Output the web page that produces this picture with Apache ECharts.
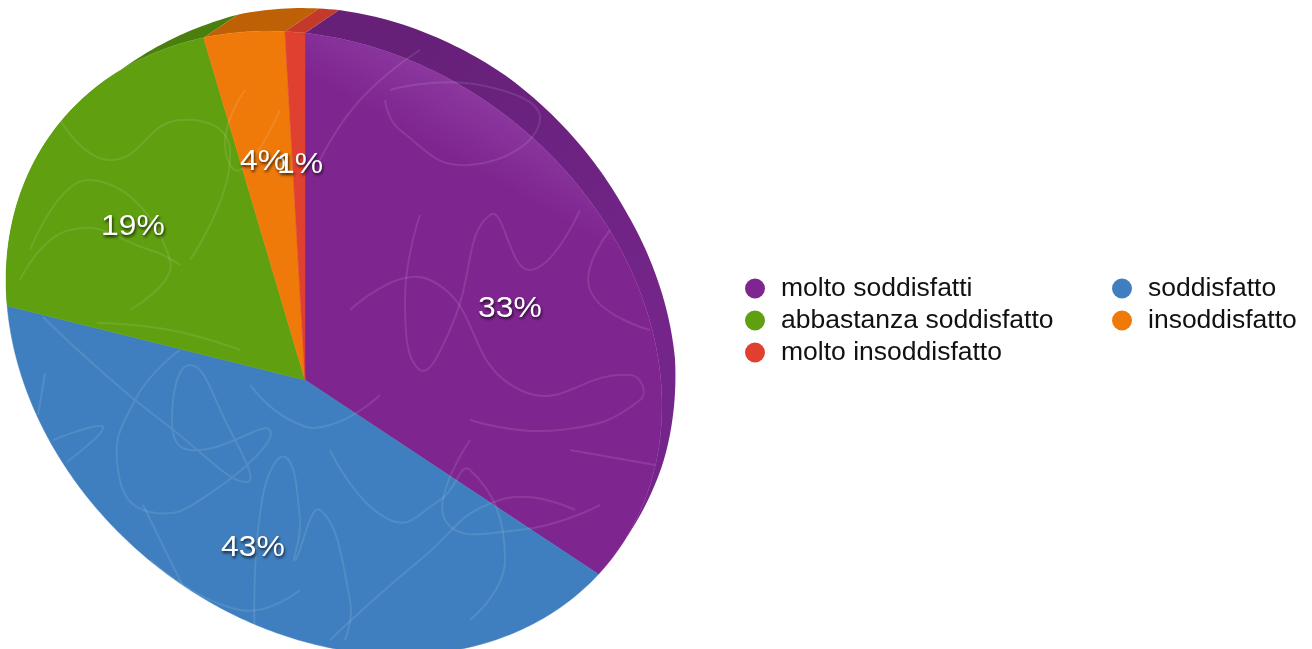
<!DOCTYPE html>
<html>
<head>
<meta charset="utf-8">
<style>html,body{margin:0;padding:0;background:#fff}#c{width:1312px;height:649px}</style>
<script src="https://cdn.jsdelivr.net/npm/echarts@6/dist/echarts.min.js"></script>
</head>
<body>
<div id="c"></div>
<script>
// ---- data ----
const categories = ['molto soddisfatti','soddisfatto','abbastanza soddisfatto','insoddisfatto','molto insoddisfatto'];
const values = [33,43,19,4,1];
const tickLabels = ['33%','43%','19%','4%','1%'];
const legendLeft = ['molto soddisfatti','abbastanza soddisfatto','molto insoddisfatto'];
const legendRight = ['soddisfatto','insoddisfatto'];

// ---- styles and tilted-disc projection ----
const topColors = ['#7f2590','#3f7fbf','#5f9f10','#ef7a0a','#e0402f'];
const sideColors = ['#6a2180','#2f6090','#4a7f0e','#bd6006','#c43a2a'];
const labelAnchors = [[510,309],[253,548],[133,227],[263,162],[300,165]];
const pivot = [305,380], centre = [334,343], semiA = 351.6, semiB = 285;
const tilt = 38*Math.PI/180, depth = [34,-23];
const warp = [[0,0],[118.8,123.5],[273.6,284],[342,343.5],[360,360]];
const taper = [[0,1],[30,0.85],[60,0.58],[85,0.45],[100,0.25],[112,0],[273.5,0],[315,0.45],[342,1],[360,1]];

function lerpTable(tab,t,fallback){
  for(let i=1;i<tab.length;i++){
    if(t<=tab[i][0]){
      const a=tab[i-1],b=tab[i];
      return a[1]+(b[1]-a[1])*(t-a[0])/(b[0]-a[0]);
    }
  }
  return fallback;
}
function rim(t){
  const p=lerpTable(warp,t,t)*Math.PI/180, dx=Math.sin(p), dy=-Math.cos(p);
  const c=Math.cos(tilt), s=Math.sin(tilt);
  const ox=pivot[0]-centre[0], oy=pivot[1]-centre[1];
  const ou=ox*c+oy*s, ov=-ox*s+oy*c, du=dx*c+dy*s, dv=-dx*s+dy*c;
  const A=du*du/(semiA*semiA)+dv*dv/(semiB*semiB);
  const B=2*(ou*du/(semiA*semiA)+ov*dv/(semiB*semiB));
  const C=ou*ou/(semiA*semiA)+ov*ov/(semiB*semiB)-1;
  const r=(-B+Math.sqrt(B*B-4*A*C))/(2*A);
  return [pivot[0]+r*dx,pivot[1]+r*dy];
}
const total = values.reduce((a,b)=>a+b,0);
function spans(){
  let acc=0; return values.map(v=>{const s=acc/total*360; acc+=v; return [s,acc/total*360];});
}
const sliceSpans = spans();
function angles(span){
  const out=[]; const n=Math.max(2,Math.ceil(span[1]-span[0]));
  for(let i=0;i<=n;i++) out.push(span[0]+(span[1]-span[0])*i/n);
  return out;
}

// faint scribble texture over the disc
const scribbles = [
 [[43,317],[100,370],[167,425],[247,482],[225,420],[190,365],[172,420],[190,450],[270,430],[215,490],[150,512],[118,470],[135,400],[180,350]],
 [[143,505],[170,560],[200,620]],
 [[255,640],[262,500],[285,457],[300,520],[295,560],[320,510],[350,600],[345,640]],
 [[45,373],[38,415]],[[53,440],[103,427],[67,462]],
 [[250,385],[290,420],[330,425],[380,395]],
 [[330,450],[390,520],[440,500],[470,470],[505,560],[470,620]],
 [[330,640],[420,560],[500,500],[575,510]],
 [[150,560],[240,610],[300,590]],
 [[30,250],[90,180],[170,260],[130,310]],
 [[97,323],[170,330],[240,350]],[[60,120],[110,160],[180,120],[230,150],[190,260]],
 [[20,280],[70,230],[150,250],[180,265]],
 [[390,90],[480,85],[540,120],[470,165],[400,130],[385,100]],
 [[420,215],[405,300],[420,370],[450,330],[490,215],[530,270],[580,210]],
 [[320,160],[360,100],[420,50]],
 [[350,310],[430,280],[520,390],[630,375],[640,400],[560,430],[470,420]],
 [[470,440],[445,520],[520,530],[600,505]],
 [[570,450],[655,465]],[[610,230],[590,290],[650,330]],
 [[245,90],[225,140],[240,170],[280,110]]
];

const sliceSeries = categories.map((name,i)=>({
  type:'custom', name, coordinateSystem:'none', z:2, silent:true,
  itemStyle:{color:topColors[i]},
  data:[[values[i]]],
  renderItem(){
    const fill = i===0
      ? new echarts.graphic.LinearGradient(528,108,488,178,[{offset:0,color:'#8d3ba1'},{offset:1,color:topColors[0]}],true)
      : topColors[i];
    return {type:'polygon',shape:{points:[pivot].concat(angles(sliceSpans[i]).map(rim))},style:{fill,stroke:topColors[i],lineWidth:0.5}};
  }
}));

const sideSeries = {
  type:'custom', name:'side', coordinateSystem:'none', z:1, silent:true,
  data:values.map((v,i)=>[v,i]),
  renderItem(params,api){
    const i=api.value(1), ts=angles(sliceSpans[i]);
    const front=ts.map(rim);
    const back=ts.map(t=>{const p=rim(t), w=lerpTable(taper,t,1);return [p[0]+w*depth[0],p[1]+w*depth[1]];}).reverse();
    const fill = i===0
      ? new echarts.graphic.LinearGradient(420,20,670,320,[{offset:0,color:'#662078'},{offset:1,color:'#74258a'}],true)
      : sideColors[i];
    return {type:'polygon',shape:{points:front.concat(back)},style:{fill}};
  }
};

const overlaySeries = {
  type:'custom', name:'overlay', coordinateSystem:'none', z:5, silent:true,
  data:[[0]],
  renderItem(){
    const children=scribbles.map(pts=>({type:'polyline',shape:{points:pts,smooth:0.5},
      style:{fill:null,stroke:'rgba(255,255,255,0.1)',lineWidth:2}}));
    tickLabels.forEach((t,i)=>children.push({type:'text',x:labelAnchors[i][0],y:labelAnchors[i][1],scaleX:1.1,
      style:{text:t,align:'center',verticalAlign:'middle',fill:'#fff',
        font:'29px "Liberation Sans", Arial, sans-serif',
        textShadowColor:'rgba(0,0,0,0.75)',textShadowBlur:3,textShadowOffsetX:1,textShadowOffsetY:2}}));
    return {type:'group',children};
  }
};

const legendBase = {
  orient:'vertical', icon:'circle', itemWidth:42, itemHeight:20, itemGap:5, selectedMode:false,
  top:275, padding:0,
  textStyle:{fontFamily:'"Liberation Sans", Arial, sans-serif',fontSize:26.5,color:'#111',padding:0}
};

const chart = echarts.init(document.getElementById('c'));
chart.setOption({
  animation:false,
  backgroundColor:'#fff',
  color:topColors,
  legend:[
    Object.assign({},legendBase,{left:745,data:legendLeft}),
    Object.assign({},legendBase,{left:1112,data:legendRight})
  ],
  series:[sideSeries].concat(sliceSeries,[overlaySeries])
});
</script>
</body>
</html>
